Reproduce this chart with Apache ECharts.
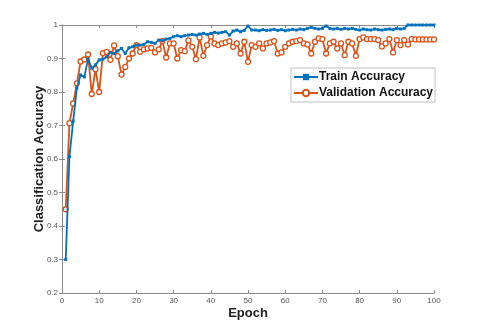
<!DOCTYPE html>
<html>
<head>
<meta charset="utf-8">
<script src="https://cdn.jsdelivr.net/npm/echarts@6/dist/echarts.min.js"></script>
<style>
html, body { margin: 0; padding: 0; background: #fff; }
#main { width: 480px; height: 329px; }
</style>
</head>
<body>
<div id="main"></div>
<script>
// accuracy per epoch
var trainAcc = [
  0.300, 0.607, 0.713, 0.812, 0.851, 0.845, 0.898, 0.871, 0.881, 0.896,
  0.898, 0.905, 0.918, 0.915, 0.923, 0.930, 0.915, 0.932, 0.935, 0.940,
  0.940, 0.942, 0.950, 0.948, 0.945, 0.955, 0.953, 0.958, 0.960, 0.965,
  0.968, 0.965, 0.968, 0.970, 0.972, 0.970, 0.973, 0.975, 0.972, 0.975,
  0.978, 0.976, 0.978, 0.980, 0.970, 0.982, 0.985, 0.980, 0.984, 0.997,
  0.985, 0.985, 0.983, 0.986, 0.984, 0.985, 0.987, 0.984, 0.986, 0.983,
  0.985, 0.987, 0.985, 0.988, 0.986, 0.990, 0.993, 0.990, 0.988, 0.990,
  0.997, 0.990, 0.988, 0.990, 0.987, 0.990, 0.988, 0.990, 0.987, 0.985,
  0.988, 0.986, 0.985, 0.988, 0.986, 0.985, 0.987, 0.988, 0.986, 0.990,
  0.988, 0.990, 1.000, 1.000, 1.000, 1.000, 1.000, 1.000, 1.000, 1.000
]
var valAcc = [
  0.450, 0.707, 0.766, 0.826, 0.891, 0.897, 0.912, 0.794, 0.868, 0.800,
  0.916, 0.920, 0.896, 0.939, 0.907, 0.852, 0.875, 0.900, 0.915, 0.940,
  0.920, 0.927, 0.930, 0.932, 0.918, 0.927, 0.952, 0.903, 0.945, 0.945,
  0.900, 0.925, 0.922, 0.954, 0.935, 0.898, 0.963, 0.908, 0.940, 0.966,
  0.945, 0.940, 0.945, 0.948, 0.952, 0.935, 0.945, 0.915, 0.950, 0.890,
  0.940, 0.935, 0.945, 0.930, 0.945, 0.948, 0.952, 0.915, 0.918, 0.935,
  0.945, 0.950, 0.952, 0.955, 0.945, 0.942, 0.915, 0.950, 0.960, 0.958,
  0.915, 0.945, 0.950, 0.930, 0.945, 0.910, 0.950, 0.945, 0.908, 0.958,
  0.963, 0.958, 0.958, 0.958, 0.955, 0.936, 0.945, 0.958, 0.918, 0.955,
  0.940, 0.955, 0.942, 0.958, 0.957, 0.957, 0.957, 0.957, 0.957, 0.957
]
var xTicks = [0, 10, 20, 30, 40, 50, 60, 70, 80, 90, 100]
var yTicks = [0.2, 0.3, 0.4, 0.5, 0.6, 0.7, 0.8, 0.9, 1]

function toPairs (arr) {
  var out = []
  for (var i = 0; i < arr.length; i++) {
    out.push([i + 1, arr[i]])
  }
  return out
}

var font = '"Liberation Sans", Arial, Helvetica, sans-serif'
var axisGray = '#8a8a8a'
var labelGray = '#555'

var myChart = echarts.init(document.getElementById('main'))
myChart.setOption({
  backgroundColor: '#fff',
  animation: false,
  grid: { left: 62, right: 46, top: 25, bottom: 36 },
  legend: {
    orient: 'vertical',
    left: 291,
    top: 68,
    itemWidth: 24,
    itemHeight: 8,
    itemGap: 4,
    padding: [3, 2, 3, 2],
    backgroundColor: '#fff',
    borderColor: '#bdbdbd',
    borderWidth: 1,
    textStyle: { fontFamily: font, fontWeight: 'bold', fontSize: 12, color: '#111', padding: [0, 0, 0, -4] },
    data: ['Train Accuracy', 'Validation Accuracy']
  },
  xAxis: [
    {
      type: 'value',
      min: xTicks[0],
      max: xTicks[xTicks.length - 1],
      interval: 10,
      name: 'Epoch',
      nameLocation: 'middle',
      nameGap: 14,
      nameMoveOverlap: false,
      nameTextStyle: { fontFamily: font, fontWeight: 'bold', fontSize: 13, color: '#222' },
      axisLine: { lineStyle: { color: axisGray, width: 1 } },
      axisTick: { inside: true, length: 3, lineStyle: { color: axisGray } },
      axisLabel: { fontFamily: font, fontSize: 8, color: labelGray, margin: 4 },
      splitLine: { show: false }
    },
    {
      type: 'value',
      position: 'top',
      min: xTicks[0],
      max: xTicks[xTicks.length - 1],
      interval: 10,
      axisLine: { show: true, lineStyle: { color: axisGray, width: 1 } },
      axisTick: { inside: true, length: 3, lineStyle: { color: axisGray } },
      axisLabel: { show: false },
      splitLine: { show: false }
    }
  ],
  yAxis: [
    {
      type: 'value',
      min: yTicks[0],
      max: yTicks[yTicks.length - 1],
      interval: 0.1,
      name: 'Classification Accuracy',
      nameLocation: 'middle',
      nameGap: 16,
      nameMoveOverlap: false,
      nameTextStyle: { fontFamily: font, fontWeight: 'bold', fontSize: 13, color: '#222' },
      axisLine: { show: true, lineStyle: { color: axisGray, width: 1 } },
      axisTick: { show: true, inside: true, length: 3, lineStyle: { color: axisGray } },
      axisLabel: {
        fontFamily: font, fontSize: 8, color: labelGray, margin: 4,
        formatter: function (v) { return String(Math.round(v * 10) / 10) }
      },
      splitLine: { show: false }
    },
    {
      type: 'value',
      position: 'right',
      min: yTicks[0],
      max: yTicks[yTicks.length - 1],
      interval: 0.1,
      axisLine: { show: true, lineStyle: { color: axisGray, width: 1 } },
      axisTick: { show: true, inside: true, length: 3, lineStyle: { color: axisGray } },
      axisLabel: { show: false },
      splitLine: { show: false }
    }
  ],
  series: [
    {
      name: 'Train Accuracy',
      type: 'line',
      data: toPairs(trainAcc),
      symbol: 'rect',
      symbolSize: 3,
      showAllSymbol: true,
      z: 3,
      lineStyle: { color: '#0072BD', width: 1.8 },
      itemStyle: { color: '#0072BD' }
    },
    {
      name: 'Validation Accuracy',
      type: 'line',
      data: toPairs(valAcc),
      symbol: 'circle',
      symbolSize: 5,
      showAllSymbol: true,
      z: 2,
      lineStyle: { color: '#D95319', width: 1.8 },
      itemStyle: { color: '#fff', borderColor: '#D95319', borderWidth: 1.3 }
    }
  ]
})
window.onresize = myChart.resize
</script>
</body>
</html>
